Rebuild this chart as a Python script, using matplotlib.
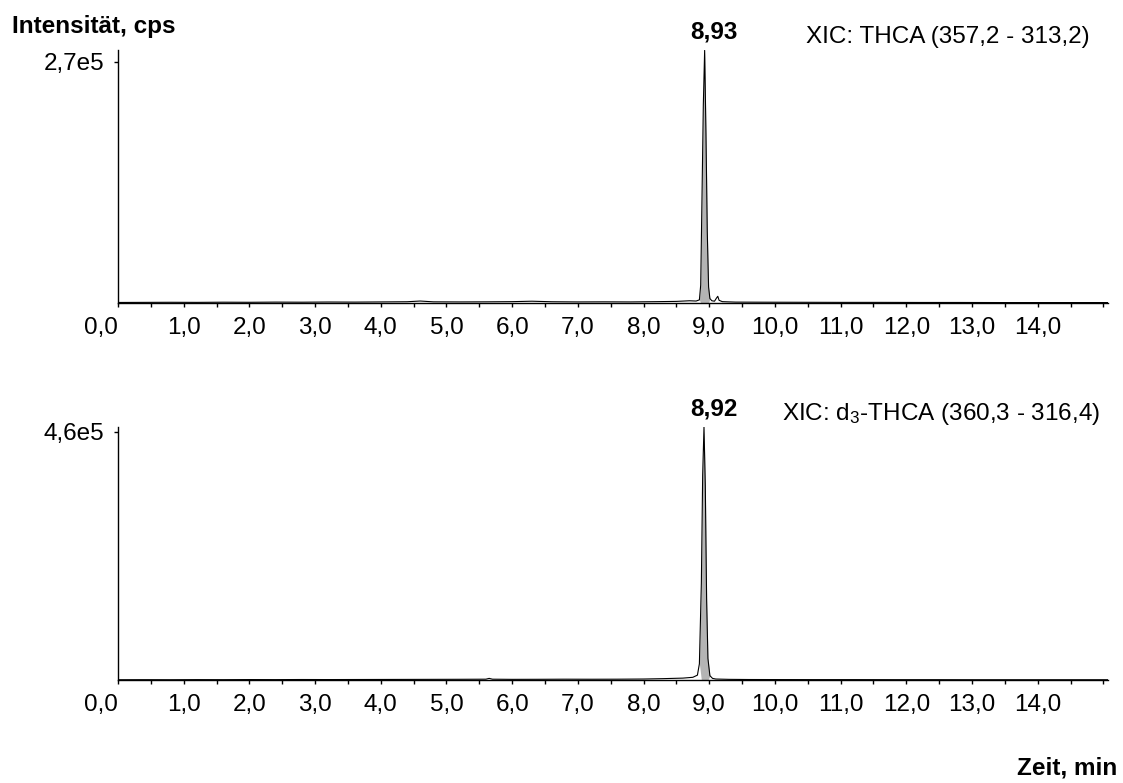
"""XIC chromatograms of THCA and d3-THCA (two stacked panels)."""

import matplotlib

matplotlib.use("Agg")
import matplotlib.pyplot as plt
from matplotlib import font_manager

# --- data ---
thca_time = [0.0, 0.4, 0.8, 1.2, 1.6, 2.0, 2.4, 2.8, 3.2, 3.6, 4.0, 4.4, 4.6, 4.8,
             5.2, 5.6, 6.0, 6.3, 6.6, 7.0, 7.4, 7.8, 8.2, 8.5, 8.7, 8.8, 8.85, 8.87,
             8.89, 8.91, 8.93, 8.95, 8.97, 8.99, 9.01, 9.04, 9.08, 9.11, 9.13, 9.15,
             9.2, 9.4, 9.8, 10.4, 11.0, 11.6, 12.2, 12.8, 13.4, 14.0, 14.6, 15.07]
thca_int = [600, 700, 800, 700, 900, 800, 1000, 900, 1100, 1000, 1200, 1400, 2200, 1300,
            1200, 1300, 1500, 2000, 1400, 1200, 1300, 1200, 1500, 1800, 2500, 2200, 3500, 20000,
            120000, 222000, 283000, 190000, 80000, 18000, 5000, 2500, 2000, 5500, 7500, 3000,
            1500, 1000, 900, 800, 700, 700, 600, 600, 500, 500, 500, 500]

d3_time = [0.0, 0.4, 0.8, 1.2, 1.6, 2.0, 2.4, 2.8, 3.2, 3.6, 4.0, 4.4, 4.8, 5.2,
           5.6, 5.65, 5.7, 6.0, 6.4, 6.8, 7.2, 7.6, 8.0, 8.3, 8.6, 8.75, 8.82, 8.85,
           8.88, 8.90, 8.92, 8.94, 8.96, 8.98, 9.01, 9.05, 9.1, 9.3, 9.6, 10.0, 10.6,
           11.2, 11.8, 12.4, 13.0, 13.6, 14.2, 14.8, 15.07]
d3_int = [500, 600, 500, 700, 600, 800, 700, 900, 800, 900, 1000, 1100, 1200, 1300,
          1500, 3000, 1500, 1200, 1300, 1500, 1400, 1500, 1800, 2500, 3500, 5000, 9000, 30000,
          180000, 380000, 469000, 360000, 150000, 40000, 8000, 3000, 1800, 1200, 900, 800, 700,
          700, 600, 600, 500, 500, 500, 500, 500]

panels = [
    dict(time=thca_time, inten=thca_int, ytick=2.7e5, ytop=2.834e5, ylabel="2,7e5",
         apex=8.93, apex_label="8,93", title="XIC: THCA (357,2 - 313,2)", title_right=1090),
    dict(time=d3_time, inten=d3_int, ytick=4.6e5, ytop=4.69e5, ylabel="4,6e5",
         apex=8.92, apex_label="8,92", title="XIC: d$_3$-THCA (360,3 - 316,4)", title_right=1100),
]
x_major = list(range(0, 16))
x_labels = [f"{v},0" for v in range(0, 15)] + [""]
x_minor = [v + 0.5 for v in range(0, 15)]

names = {f.name for f in font_manager.fontManager.ttflist}
family = "Liberation Sans Narrow" if "Liberation Sans Narrow" in names else "Liberation Sans"
plt.rcParams["font.family"] = [family, "DejaVu Sans"]
plt.rcParams["mathtext.fontset"] = "custom"
plt.rcParams["mathtext.rm"] = family
plt.rcParams["mathtext.it"] = family

W, H = 1123, 783
fig = plt.figure(figsize=(W / 100, H / 100), dpi=100)

left, right = 118, 1108
rows = [(50, 303), (427, 680)]
FS = 17.5

for p, (top_px, bot_px) in zip(panels, rows):
    ax = fig.add_axes([left / W, 1 - bot_px / H, (right - left) / W, (bot_px - top_px) / H])
    ax.fill_between(p["time"], p["inten"], 0,
                    where=[8.86 <= t <= 9.0 for t in p["time"]],
                    color="#b4b4b4", lw=0, interpolate=True)
    ax.plot(p["time"], p["inten"], color="black", lw=0.8)
    ax.set_xlim(0, 15.07)
    ax.set_ylim(0, p["ytop"])
    for s in ("top", "right"):
        ax.spines[s].set_visible(False)
    for s in ("left", "bottom"):
        ax.spines[s].set_linewidth(1.0)
    ax.set_xticks(x_major)
    ax.set_xticklabels(x_labels)
    ax.set_xticks(x_minor, minor=True)
    ax.set_yticks([p["ytick"]])
    ax.set_yticklabels([p["ylabel"]])
    ax.tick_params(axis="both", which="both", length=3, width=1, direction="out",
                   labelsize=FS, pad=7)
    ax.get_xticklabels()[0].set_horizontalalignment("right")
    ax.annotate(p["apex_label"], xy=(p["apex"], p["ytop"]), xytext=(7, 5),
                textcoords="offset points", ha="center", va="bottom",
                fontsize=FS, fontweight="bold", annotation_clip=False)
    ax.text((p["title_right"] - left) / (right - left), 1.05, p["title"],
            transform=ax.transAxes, ha="right", va="center", fontsize=FS)

fig.text(12 / W, 1 - 27 / H, "Intensität, cps", ha="left", va="center",
         fontsize=FS, fontweight="bold")
fig.text(1117 / W, 1 - 768 / H, "Zeit, min", ha="right", va="center",
         fontsize=FS, fontweight="bold")

fig.savefig("out.png", dpi=100)
